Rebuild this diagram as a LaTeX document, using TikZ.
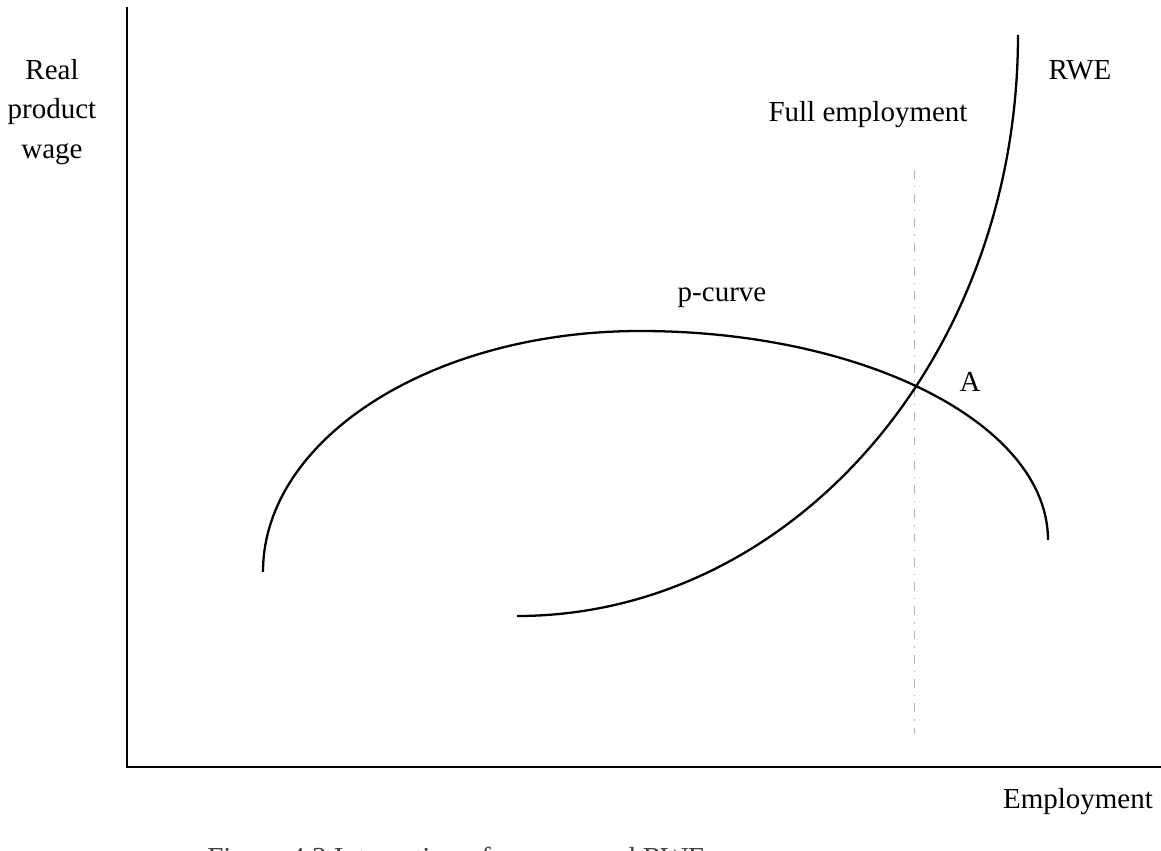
\documentclass[tikz,border=0pt]{standalone}
\usepackage{fontspec}
\setmainfont{Liberation Serif}
\usepackage{tikz}

\tikzset{
  axis/.style={line width=1.6pt},
  curve/.style={line width=1.3pt},
  fullline/.style={line width=0.5pt, color=gray!60, dash pattern=on 5pt off 4pt on 0.8pt off 4pt},
  lbl/.style={inner sep=0pt, font=\fontsize{16.5}{22.5}\selectfont}
}

\begin{document}
\begin{tikzpicture}[x=0.02cm, y=0.02cm]
\useasboundingbox (0,0) rectangle (1161,850);
\coordinate (O) at (127,83); % origin
\coordinate (ytop) at (127,843); % wage axis end
\coordinate (xend) at (1161,83); % employment axis end
\coordinate (fetop) at (914,680); % full employment line
\coordinate (febot) at (914,116);
\coordinate (pleft) at (263,278); % p-curve start
\coordinate (rwelow) at (517,234); % RWE start

\draw[axis] (ytop) -- (O) -- (xend) ; % axes
\draw[fullline] (fetop) -- (febot) ; % full employment
\draw[curve] (pleft) arc[start angle=180, end angle=90, x radius=377, y radius=241]
  arc[start angle=90, end angle=0, x radius=408, y radius=209] ; % p-curve
\draw[curve] (rwelow) arc[start angle=270, end angle=360, x radius=501, y radius=581] ; % RWE

\node[lbl, align=center] (wage) at (52,738) {Real\\product\\wage};
\node[lbl] (emp) at (1078,48) {Employment};
\node[lbl] (full) at (868,735) {Full employment};
\node[lbl] (rwe) at (1080,780) {RWE};
\node[lbl, anchor=base] (pcurve) at (722,548) {p-curve};
\node[lbl, anchor=base] (A) at (970,459) {A};
\node[lbl, anchor=base west, text=black!75] (caption) at (207,-17) {Figure 4.3 Interaction of p-curve and RWE};
\end{tikzpicture}
\end{document}
